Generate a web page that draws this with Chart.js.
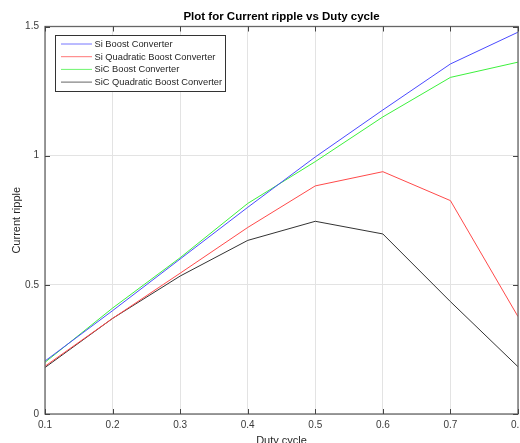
<!DOCTYPE html>
<html>
<head>
<meta charset="utf-8">
<script src="https://cdn.jsdelivr.net/npm/chart.js@4/dist/chart.umd.min.js"></script>
<style>
  html, body { margin: 0; padding: 0; background: #ffffff; }
  #wrap { width: 520px; height: 443px; position: relative; }
</style>
</head>
<body>
<div id="wrap"><canvas id="c" width="520" height="443"></canvas></div>
<script>
// ---- data ----
const dutyCycle = [0.1, 0.2, 0.3, 0.4, 0.5, 0.6, 0.7, 0.8];
const siBoost      = [0.205, 0.400, 0.600, 0.800, 0.995, 1.177, 1.355, 1.478];
const siQuadratic  = [0.185, 0.370, 0.545, 0.722, 0.883, 0.938, 0.826, 0.377];
const sicBoost     = [0.200, 0.410, 0.605, 0.815, 0.977, 1.150, 1.303, 1.362];
const sicQuadratic = [0.180, 0.370, 0.534, 0.672, 0.746, 0.697, 0.435, 0.183];
const seriesLabels = ['Si Boost Converter', 'Si Quadratic Boost Converter', 'SiC Boost Converter', 'SiC Quadratic Boost Converter'];
const xTicks = [0.1, 0.2, 0.3, 0.4, 0.5, 0.6, 0.7, 0.8];
const yTicks = [0, 0.5, 1, 1.5];
const chartTitle = 'Plot for Current ripple vs Duty cycle';
const xTitle = 'Duty cycle';
const yTitle = 'Current ripple';

const colors = ['#4a4aff', '#ff4a4a', '#3cf03c', '#333333'];
const seriesValues = [siBoost, siQuadratic, sicBoost, sicQuadratic];

const FONT = "Arial, 'Liberation Sans', Helvetica, sans-serif";
const AXIS_COLOR = '#666666';

const datasets = seriesValues.map((vals, i) => ({
  label: seriesLabels[i],
  data: dutyCycle.map((x, j) => ({ x: x, y: vals[j] })),
  borderColor: colors[i],
  backgroundColor: colors[i],
  borderWidth: 1,
  pointRadius: 0,
  tension: 0,
  fill: false
}));

// MATLAB style title, box, inward ticks and inside legend
const matlabPlugin = {
  id: 'matlabBox',
  afterDatasetsDraw(chart) {
    const { ctx, chartArea: a, scales } = chart;
    const xs = scales.x, ys = scales.y;
    ctx.save();
    // title centred over the axes
    ctx.fillStyle = '#000000';
    ctx.font = 'bold 11.5px ' + FONT;
    ctx.textAlign = 'center';
    ctx.textBaseline = 'middle';
    ctx.fillText(chartTitle, (a.left + a.right) / 2, 17);

    ctx.strokeStyle = AXIS_COLOR;
    ctx.lineWidth = 1.3;
    // box
    ctx.strokeRect(a.left, a.top, a.right - a.left, a.bottom - a.top);
    // inward ticks
    ctx.strokeStyle = '#444444';
    ctx.lineWidth = 1;
    const tl = 5;
    ctx.beginPath();
    xTicks.forEach(v => {
      const px = Math.round(xs.getPixelForValue(v)) + 0.5;
      ctx.moveTo(px, a.bottom); ctx.lineTo(px, a.bottom - tl);
      ctx.moveTo(px, a.top); ctx.lineTo(px, a.top + tl);
    });
    yTicks.forEach(v => {
      const py = Math.round(ys.getPixelForValue(v)) + 0.5;
      ctx.moveTo(a.left, py); ctx.lineTo(a.left + tl, py);
      ctx.moveTo(a.right, py); ctx.lineTo(a.right - tl, py);
    });
    ctx.stroke();

    // legend
    const lx = 55.5, ly = 35.5, lw = 170, lh = 56;
    ctx.fillStyle = '#ffffff';
    ctx.fillRect(lx, ly, lw, lh);
    ctx.strokeStyle = '#333333';
    ctx.lineWidth = 1;
    ctx.strokeRect(lx, ly, lw, lh);
    ctx.font = '9.3px ' + FONT;
    ctx.textBaseline = 'middle';
    ctx.textAlign = 'left';
    chart.data.datasets.forEach((ds, i) => {
      const y = 44 + i * 12.7;
      ctx.strokeStyle = ds.borderColor;
      ctx.globalAlpha = 0.75;
      ctx.beginPath();
      ctx.moveTo(61, y); ctx.lineTo(92, y);
      ctx.stroke();
      ctx.globalAlpha = 1;
      ctx.fillStyle = '#262626';
      ctx.fillText(ds.label, 94.5, y + 0.5);
    });
    ctx.restore();
  }
};

new Chart(document.getElementById('c'), {
  type: 'line',
  data: { datasets: datasets },
  plugins: [matlabPlugin],
  options: {
    responsive: false,
    animation: false,
    devicePixelRatio: 1,
    layout: { padding: { left: 0, right: 2, top: 26.5, bottom: 0 } },
    plugins: {
      legend: { display: false },
      tooltip: { enabled: false },
      title: { display: false }
    },
    scales: {
      x: {
        type: 'linear',
        min: 0.1, max: 0.8,
        afterBuildTicks(scale) { scale.ticks = xTicks.map(v => ({ value: v })); },
        afterFit(scale) { scale.height = 29; scale.paddingLeft = 0; scale.paddingRight = 0; },
        ticks: {
          color: '#3a3a3a',
          font: { family: FONT, size: 10 },
          padding: 5,
          maxRotation: 0,
          autoSkip: false,
          callback: v => (Math.round(v * 10) / 10).toString()
        },
        grid: { color: '#e3e3e3', lineWidth: 1, drawTicks: false },
        border: { display: false },
        title: {
          display: true, text: xTitle, color: '#262626',
          font: { family: FONT, size: 11, lineHeight: 1.0 },
          padding: { top: 0, bottom: -3 }
        }
      },
      y: {
        type: 'linear',
        min: 0, max: 1.5,
        afterBuildTicks(scale) { scale.ticks = yTicks.map(v => ({ value: v })); },
        afterFit(scale) { scale.width = 45; scale.paddingTop = 0; scale.paddingBottom = 0; },
        ticks: {
          color: '#3a3a3a',
          font: { family: FONT, size: 10 },
          padding: 6,
          autoSkip: false,
          callback: v => v.toString()
        },
        grid: { color: '#e3e3e3', lineWidth: 1, drawTicks: false },
        border: { display: false },
        title: {
          display: true, text: yTitle, color: '#262626',
          font: { family: FONT, size: 11, lineHeight: 1.2 },
          padding: { top: 10, bottom: 0 }
        }
      }
    }
  }
});
</script>
</body>
</html>
